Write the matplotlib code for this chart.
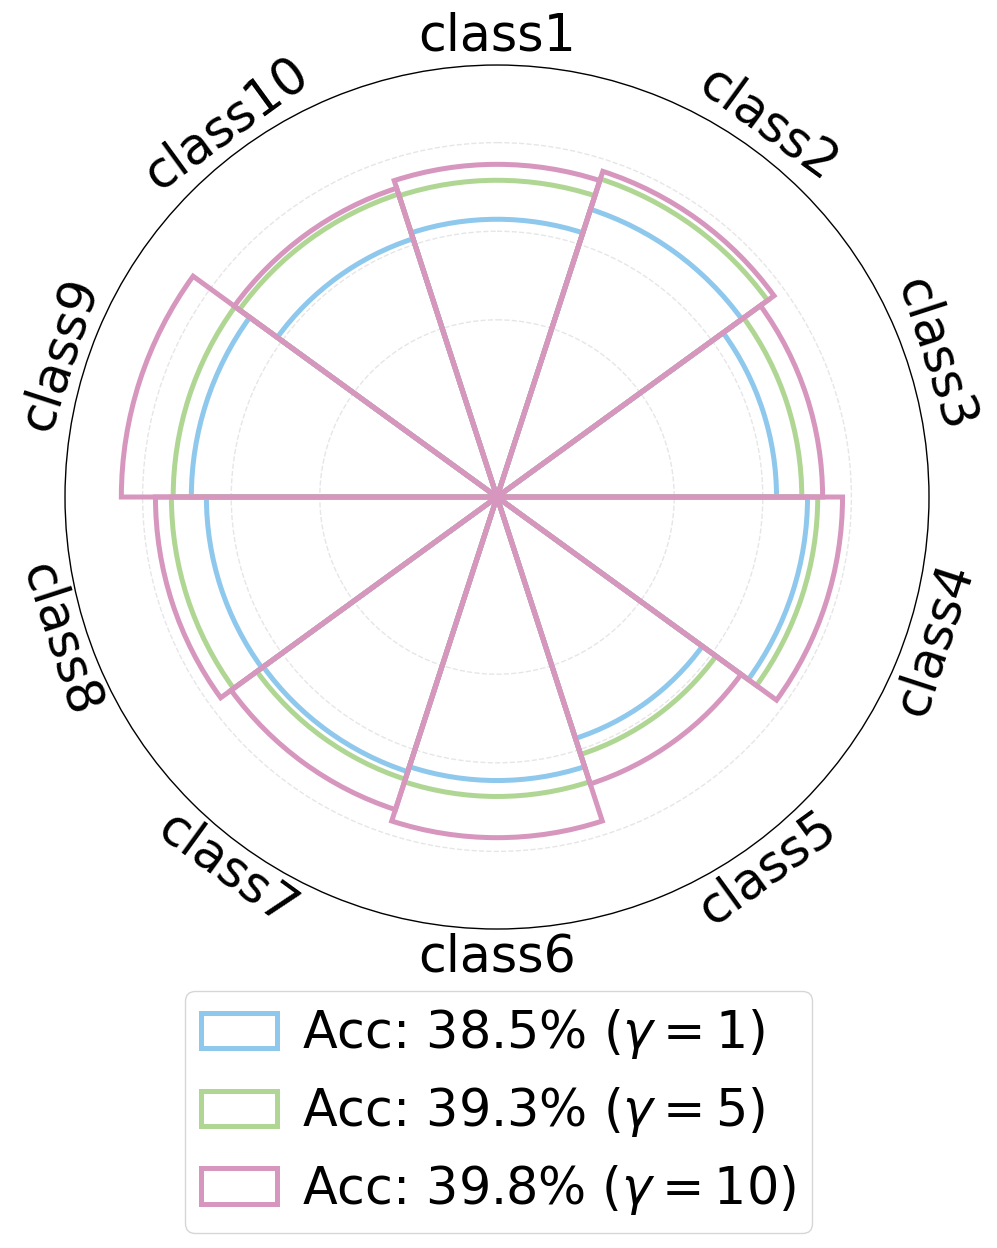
import numpy as np
import matplotlib
matplotlib.use("Agg")
import matplotlib.pyplot as plt

classes = [f"class{i}" for i in range(1, 11)]
acc_g1 = [0.627, 0.683, 0.631, 0.701, 0.573, 0.640, 0.652, 0.656, 0.690, 0.613]
acc_g5 = [0.715, 0.755, 0.688, 0.724, 0.611, 0.676, 0.670, 0.735, 0.731, 0.719]
acc_g10 = [0.751, 0.773, 0.735, 0.780, 0.681, 0.769, 0.742, 0.771, 0.848, 0.733]
labels = [r"Acc: 38.5% ($\gamma=1$)", r"Acc: 39.3% ($\gamma=5$)", r"Acc: 39.8% ($\gamma=10$)"]
colors = ["#8EC8ED", "#B0D694", "#D696BE"]

n = len(classes)
theta = np.arange(n) * 2 * np.pi / n
width = 2 * np.pi / n

fig = plt.figure(figsize=(9.97, 12.48), dpi=100)
ax = fig.add_axes([0.0652, 0.2556, 0.8666, 0.6923], projection="polar")
ax.set_theta_zero_location("N")
ax.set_theta_direction(-1)
ax.set_axisbelow(True)

for vals, col, lab in zip([acc_g1, acc_g5, acc_g10], colors, labels):
    ax.bar(theta, vals, width=width, fill=False, edgecolor=col,
           linewidth=3.6, label=lab)

rmax = max(acc_g10) * 1.15
ax.set_ylim(0, rmax)
ax.set_yticks([0.4, 0.6, 0.8])
ax.set_yticklabels([])
ax.yaxis.grid(True, linestyle="--", color="#e6e6e6", linewidth=1.0)
ax.set_xticks([])
ax.xaxis.grid(False)
for axis in (ax.xaxis, ax.yaxis):
    axis.set_tick_params(which="both", size=0, width=0,
                         tick1On=False, tick2On=False)
ax.spines["polar"].set_linewidth(1.0)
ax.spines["polar"].set_capstyle("butt")
for key in ("start", "end", "inner"):
    ax.spines[key].set_visible(False)

for t, name in zip(theta, classes):
    deg = np.degrees(t)
    rot = -deg
    if 90 < deg < 270:
        rot += 180
    elif deg >= 270:
        rot += 360
    ax.text(t, rmax * 1.065, name, rotation=rot, rotation_mode="anchor",
            ha="center", va="center", fontsize=36.5, clip_on=False)

fig.legend(loc="upper center", bbox_to_anchor=(0.5, 1 - 991 / 1248),
           fontsize=36.5, handlelength=1.5, handletextpad=0.5,
           labelspacing=0.47, borderpad=0.32, borderaxespad=0)

fig.savefig("out.png", dpi=100)
